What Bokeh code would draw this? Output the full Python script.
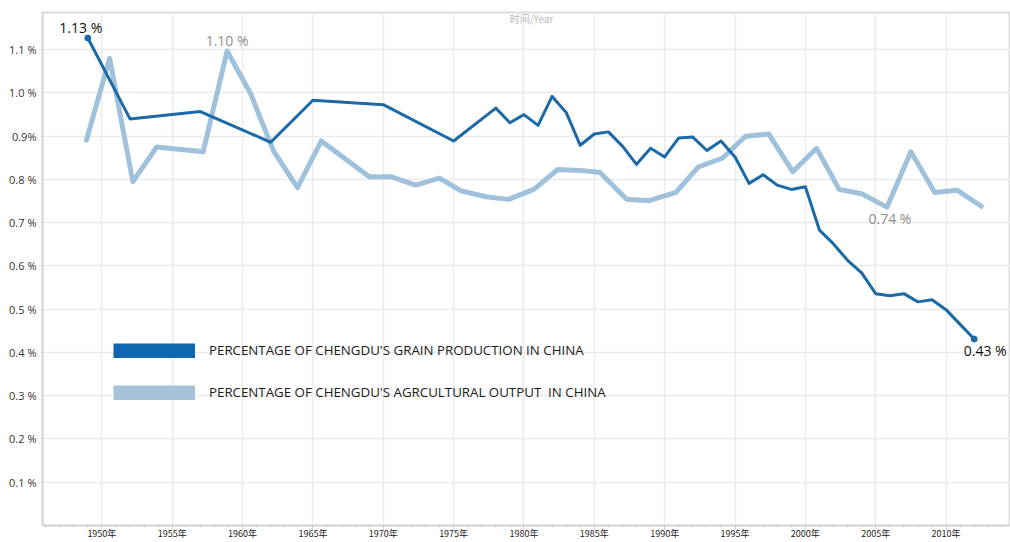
from bokeh.plotting import figure
from bokeh.models import Range1d, FixedTicker, Legend, LegendItem, Label, ColumnDataSource
from bokeh.core.properties import value
from bokeh.embed import file_html
from bokeh.resources import INLINE

# ---- data ----
grain_years = [1949, 1952, 1957, 1962, 1965, 1970, 1975, 1978, 1979, 1980, 1981, 1982,
               1983, 1984, 1985, 1986, 1987, 1988, 1989, 1990, 1991, 1992, 1993, 1994,
               1995, 1996, 1997, 1998, 1999, 2000, 2001, 2002, 2003, 2004, 2005, 2006,
               2007, 2008, 2009, 2010, 2011, 2012]
grain_pct = [1.127, 0.940, 0.957, 0.886, 0.983, 0.973, 0.889, 0.965, 0.931, 0.950, 0.925, 0.992,
             0.955, 0.879, 0.905, 0.910, 0.877, 0.835, 0.872, 0.852, 0.896, 0.898, 0.867, 0.889,
             0.852, 0.791, 0.811, 0.787, 0.777, 0.783, 0.683, 0.651, 0.613, 0.584, 0.536, 0.531,
             0.536, 0.517, 0.522, 0.499, 0.465, 0.431]

agri_years = [1948.9, 1950.55, 1952.2, 1953.9, 1957.2, 1958.9, 1960.55, 1962.2, 1963.9, 1965.6,
              1969.0, 1970.6, 1972.3, 1974.0, 1975.5, 1977.3, 1978.9, 1980.7, 1982.4, 1984.0,
              1985.4, 1987.3, 1988.9, 1990.8, 1992.4, 1994.1, 1995.75, 1997.4, 1999.1, 2000.8,
              2002.4, 2004.0, 2005.8, 2007.5, 2009.2, 2010.8, 2012.5]
agri_pct = [0.891, 1.080, 0.795, 0.875, 0.864, 1.097, 1.000, 0.866, 0.781, 0.889,
            0.806, 0.806, 0.787, 0.803, 0.774, 0.760, 0.754, 0.777, 0.823, 0.821,
            0.816, 0.754, 0.751, 0.770, 0.829, 0.849, 0.900, 0.905, 0.818, 0.872,
            0.777, 0.767, 0.736, 0.864, 0.770, 0.775, 0.738]

x_ticks = [1950, 1955, 1960, 1965, 1970, 1975, 1980, 1985, 1990, 1995, 2000, 2005, 2010, 2015]
x_tick_labels = [f"{y}年" for y in x_ticks]
y_ticks = [0.1, 0.2, 0.3, 0.4, 0.5, 0.6, 0.7, 0.8, 0.9, 1.0, 1.1]
y_tick_labels = ["0.1 %", "0.2 %", "0.3 %", "0.4 %", "0.5 %", "0.6 %", "0.7 %", "0.8 %",
                 "0.9%", "1.0 %", "1.1 %"]

grain_name = "PERCENTAGE OF CHENGDU'S GRAIN PRODUCTION IN CHINA"
agri_name = "PERCENTAGE OF CHENGDU'S AGRCULTURAL OUTPUT  IN CHINA"
axis_title = "时间/Year"

DARK = "#1b69a6"
LIGHT = "#9fc1dc"
DARK_SW = "#0f67b0"
LIGHT_SW = "#a7c2d6"
GRID = "#ebebeb"

p = figure(width=1010, height=542, output_backend="svg", toolbar_location=None,
           x_range=Range1d(1945.78, 2014.58), y_range=Range1d(0, 1.186),
           min_border_left=42, min_border_right=0, min_border_top=12, min_border_bottom=10)
p.background_fill_color = "white"
p.border_fill_color = "white"
p.outline_line_color = "#dcdcdc"
p.outline_line_width = 2

# axes
xa = p.xaxis[0]
xa.ticker = FixedTicker(ticks=x_ticks, minor_ticks=list(range(1946, 2015)))
xa.major_label_overrides = {t: l for t, l in zip(x_ticks, x_tick_labels)}
xa.major_label_text_font = "Noto Sans CJK SC"
xa.major_label_text_font_size = "9px"
xa.major_label_text_color = "#222222"
xa.major_label_standoff = -3
xa.axis_line_color = "#d4d4d4"
xa.axis_line_width = 1.5
xa.major_tick_line_color = "#c8c8c8"
xa.minor_tick_line_color = "#c8c8c8"
xa.major_tick_out = 4
xa.major_tick_in = 0
xa.minor_tick_out = 2
xa.minor_tick_in = 0

ya = p.yaxis[0]
ya.ticker = FixedTicker(ticks=y_ticks, minor_ticks=[])
ya.major_label_overrides = {t: l for t, l in zip(y_ticks, y_tick_labels)}
ya.major_label_text_font = "Open Sans"
ya.major_label_text_font_size = "11px"
ya.major_label_text_color = "#333333"
ya.major_label_standoff = 4
ya.axis_line_color = "#d4d4d4"
ya.axis_line_width = 1.5
ya.major_tick_line_color = "#d4d4d4"
ya.major_tick_out = 2
ya.major_tick_in = 0

p.xgrid.ticker = FixedTicker(ticks=x_ticks)
p.ygrid.ticker = FixedTicker(ticks=y_ticks)
p.xgrid.grid_line_color = GRID
p.ygrid.grid_line_color = GRID
p.xgrid.grid_line_width = 1.5
p.ygrid.grid_line_width = 1.5

# lines
p.line(agri_years, agri_pct, line_color=LIGHT, line_width=5, line_join="round", line_cap="round")
p.line(grain_years, grain_pct, line_color=DARK, line_width=3, line_join="round", line_cap="round")
p.scatter([grain_years[0], grain_years[-1]], [grain_pct[0], grain_pct[-1]], size=6,
          fill_color=DARK, line_color=DARK)

# value labels
i_max = agri_pct.index(max(agri_pct))
late = [k for k, y in enumerate(agri_years) if 2003 < y < 2008]
i_low = min(late, key=lambda k: agri_pct[k])
lab = ColumnDataSource(dict(
    x=[grain_years[0], agri_years[i_max], agri_years[i_low], grain_years[-1]],
    y=[grain_pct[0], agri_pct[i_max], agri_pct[i_low], grain_pct[-1]],
    t=[f"{grain_pct[0]:.2f} %", f"{agri_pct[i_max]:.2f} %", f"{agri_pct[i_low]:.2f} %",
       f"{grain_pct[-1]:.2f} %"],
    c=["#111111", "#8e8e8e", "#8e8e8e", "#111111"],
    dx=[-7, 0, 3, 11],
    dy=[-11, -10, 11, 11],
))
p.text(x="x", y="y", text="t", source=lab, text_color="c", x_offset="dx", y_offset="dy",
       text_align="center", text_baseline="middle", text_font=value("Open Sans"),
       text_font_size="14px")

# legend swatches (renderers with a single NaN point: nothing drawn in the plot)
nan = float("nan")
sw1 = p.line([nan], [nan], line_color=DARK_SW, line_width=15, line_cap="butt")
sw2 = p.line([nan], [nan], line_color=LIGHT_SW, line_width=15, line_cap="butt")
legend = Legend(items=[LegendItem(label=grain_name, renderers=[sw1]),
                       LegendItem(label=agri_name, renderers=[sw2])],
                location=(71, 124), glyph_width=82, glyph_height=15, label_height=15,
                label_standoff=14, spacing=24, padding=0, margin=0,
                border_line_alpha=0, background_fill_alpha=0,
                label_text_font="Open Sans", label_text_font_size="13.3px",
                label_text_color="#1a1a1a")
p.add_layout(legend, "center")

p.add_layout(Label(x=489, y=507, x_units="screen", y_units="screen", text=axis_title,
                   text_font="Noto Sans CJK SC", text_font_size="10px", text_color="#bbbbbb",
                   text_align="center", text_baseline="middle"))

open("out.html", "w").write(file_html(p, INLINE))
